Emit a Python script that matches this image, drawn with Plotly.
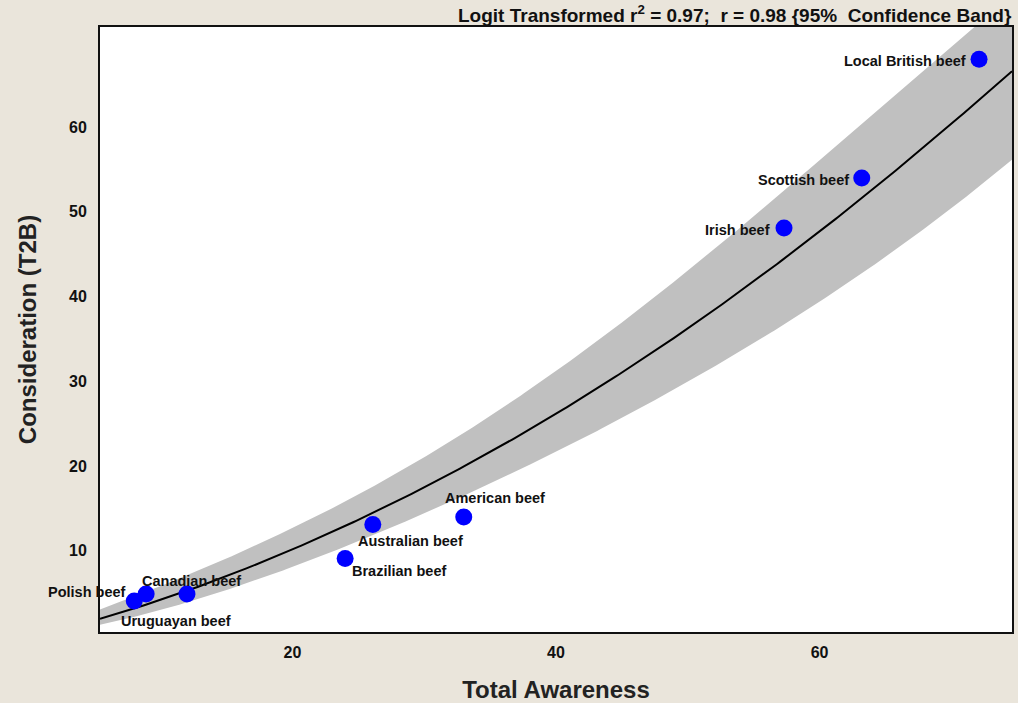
import numpy as np
import plotly.graph_objects as go

# Beef origins: total awareness (%) vs consideration, top-two-box (%)
origins = ["Local British beef", "Scottish beef", "Irish beef", "American beef",
           "Australian beef", "Brazilian beef", "Polish beef", "Uruguayan beef",
           "Canadian beef"]
awareness = [72.1, 63.2, 57.3, 33.0, 26.1, 24.0, 8.0, 8.9, 12.0]
consideration = [68.0, 54.0, 48.1, 14.0, 13.1, 9.1, 4.1, 4.9, 4.9]

x_ticks = [20, 40, 60]
y_ticks = [10, 20, 30, 40, 50, 60]

# label placement per origin: (xanchor, yanchor, xshift, yshift)
label_pos = [
    ("right", "middle", -11, -2),
    ("right", "middle", -11, -2),
    ("right", "middle", -12, -2),
    ("center", "middle", 31, 19),
    ("center", "middle", 38, -16),
    ("center", "middle", 54, -12),
    ("right", "middle", -6, 9),
    ("center", "middle", 30, -27),
    ("center", "middle", 5, 13),
]

BG = "#EAE5DB"
X_RANGE = [5.4, 74.6]
Y_RANGE = [0.43, 71.8]
FONT = "Liberation Sans, Arial"


def logit(p):
    return np.log(p / (1 - p))


def inv_logit(z):
    return 1 / (1 + np.exp(-z))


# Linear fit on logit-transformed shares with a 95% confidence band
lx = logit(np.array(awareness) / 100)
ly = logit(np.array(consideration) / 100)
n = len(lx)
b, a = np.polyfit(lx, ly, 1)
resid = ly - (a + b * lx)
s = np.sqrt(np.sum(resid ** 2) / (n - 2))
sxx = np.sum((lx - lx.mean()) ** 2)
t_crit = 2.365  # t(0.975, df=7)

xg = np.linspace(X_RANGE[0], X_RANGE[1], 300)
lg = logit(xg / 100)
fit = a + b * lg
se = s * np.sqrt(1 / n + (lg - lx.mean()) ** 2 / sxx)
y_fit = 100 * inv_logit(fit)
y_hi = 100 * inv_logit(fit + t_crit * se)
y_lo = 100 * inv_logit(fit - t_crit * se)

fig = go.Figure()
fig.add_trace(go.Scatter(
    x=np.concatenate([xg, xg[::-1]]),
    y=np.concatenate([y_hi, y_lo[::-1]]),
    fill="toself", fillcolor="#C0C0C0", line=dict(width=0),
    mode="lines", hoverinfo="skip", showlegend=False))
fig.add_trace(go.Scatter(
    x=xg, y=y_fit, mode="lines",
    line=dict(color="black", width=2), showlegend=False))
fig.add_trace(go.Scatter(
    x=awareness, y=consideration, mode="markers",
    marker=dict(color="#0000FF", size=17, line=dict(width=0)),
    text=origins, showlegend=False, cliponaxis=False))

for name, xv, yv, (xa, ya, xs, ys) in zip(origins, awareness, consideration, label_pos):
    fig.add_annotation(
        x=xv, y=yv, xref="x", yref="y", text=name, showarrow=False,
        xanchor=xa, yanchor=ya, xshift=xs, yshift=ys,
        font=dict(family=FONT, size=14.5, color="#111111", weight="bold"))

fig.add_annotation(
    x=1.0, y=1.0, xref="paper", yref="paper", xanchor="right", yanchor="bottom",
    xshift=2, yshift=-1, showarrow=False,
    text="Logit Transformed r<sup>2</sup> = 0.97;  r = 0.98 {95%  Confidence Band}",
    font=dict(family=FONT, size=19, color="#111111", weight="bold"))

axis_font = dict(family=FONT, size=16, color="#111111", weight="bold")
title_font = dict(family=FONT, size=24, color="#222222", weight="bold")

fig.update_layout(
    width=1018, height=703,
    margin=dict(l=100, r=4, t=27, b=71),
    paper_bgcolor=BG, plot_bgcolor="white",
    xaxis=dict(range=X_RANGE, tickvals=x_ticks, showgrid=False, zeroline=False,
               showline=True, linecolor="#111111", linewidth=2, mirror=True,
               ticks="outside", ticklen=5, tickcolor=BG, tickfont=axis_font,
               title=dict(text="Total Awareness", font=title_font, standoff=21)),
    yaxis=dict(range=Y_RANGE, tickvals=y_ticks, showgrid=False, zeroline=False,
               showline=True, linecolor="#111111", linewidth=2, mirror=True,
               ticks="outside", ticklen=8, tickcolor=BG, tickfont=axis_font,
               title=dict(text="Consideration (T2B)", font=title_font, standoff=26)),
    font=dict(family=FONT),
)

fig.write_html("out.html")
